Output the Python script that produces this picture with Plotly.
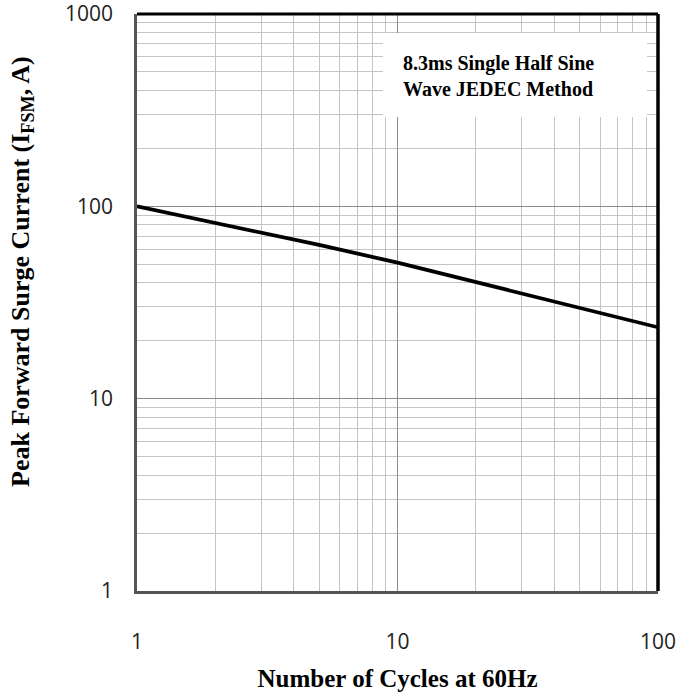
import plotly.graph_objects as go

cycles = [1, 2, 5, 10, 20, 50, 100]
current = [100, 82, 63, 51, 40.5, 29.8, 23.5]
x_ticks = [1, 10, 100]
y_ticks = [1, 10, 100, 1000]

L, R, T, B = 137, 23, 14, 109
W, H = 681, 700
pw, ph = W - L - R, H - T - B

fig = go.Figure()
fig.add_trace(go.Scatter(x=cycles, y=current, mode="lines",
                         line=dict(color="black", width=3.7), showlegend=False,
                         hoverinfo="skip"))

tickfont = dict(family="Open Sans, Liberation Sans, sans-serif", size=21, color="#222")
titlefont_x = dict(family="Liberation Serif, Times New Roman, serif", size=25, color="black")
titlefont_y = dict(family="Liberation Serif, Times New Roman, serif", size=26, color="black")

fig.update_xaxes(type="log", range=[0, 2], tickvals=x_ticks, ticktext=[str(v) for v in x_ticks],
                 showgrid=True, gridcolor="#8c8c8c", gridwidth=1,
                 minor=dict(dtick="D1", showgrid=True, gridcolor="#c4c4c4", gridwidth=1.2, ticks=""),
                 showline=True, linecolor="#555", linewidth=2.5, ticks="",
                 tickfont=tickfont, ticklabelstandoff=30, automargin=False,
                 ticklabeloverflow="allow",
                 title=dict(text="<b>Number of Cycles at 60Hz</b>", font=titlefont_x, standoff=16),
                 zeroline=False)
fig.update_yaxes(type="log", range=[0, 3], tickvals=y_ticks, ticktext=[str(v) for v in y_ticks],
                 showgrid=True, gridcolor="#8c8c8c", gridwidth=1,
                 minor=dict(dtick="D1", showgrid=True, gridcolor="#c4c4c4", gridwidth=1.2, ticks=""),
                 showline=True, linecolor="#555", linewidth=2.5, ticks="",
                 tickfont=tickfont, ticklabelstandoff=17, automargin=False,
                 ticklabeloverflow="allow",
                 zeroline=False)

# y-axis title (placed as rotated text, as in the reference it sits above the plot centre)
fig.add_annotation(xref="paper", yref="paper", x=(22 - L) / pw, y=(H - B - 272) / ph,
                   xanchor="center", yanchor="middle", showarrow=False, textangle=-90,
                   text="<b>Peak Forward Surge Current (I<sub>FSM</sub>, A)</b>", font=titlefont_y)

# top and right black borders
fig.add_shape(type="line", xref="paper", yref="paper", x0=0, x1=1, y0=1, y1=1,
              line=dict(color="black", width=3), layer="above")
fig.add_shape(type="line", xref="paper", yref="paper", x0=1, x1=1, y0=0, y1=1,
              line=dict(color="black", width=3.5), layer="above")

# white box behind the annotation
bx0, bx1, by0, by1 = 383, 647, 33, 117
fig.add_shape(type="rect", xref="paper", yref="paper",
              x0=(bx0 - L) / pw, x1=(bx1 - L) / pw,
              y0=(H - B - by1) / ph, y1=(H - B - by0) / ph,
              fillcolor="white", line=dict(width=0), layer="above")
fig.add_annotation(xref="paper", yref="paper", x=(401 - L) / pw, y=(H - B - 76) / ph,
                   xanchor="left", yanchor="middle", align="left", showarrow=False,
                   text="<b>8.3ms Single Half Sine<br>Wave JEDEC Method</b>",
                   font=dict(family="Liberation Serif, Times New Roman, serif", size=20, color="black"))

fig.update_layout(width=W, height=H, margin=dict(l=L, r=R, t=T, b=B),
                  plot_bgcolor="white", paper_bgcolor="white")

fig.write_html("out.html", config={"displayModeBar": False},
               post_script="document.body.style.margin='0';document.body.style.overflow='hidden';")
